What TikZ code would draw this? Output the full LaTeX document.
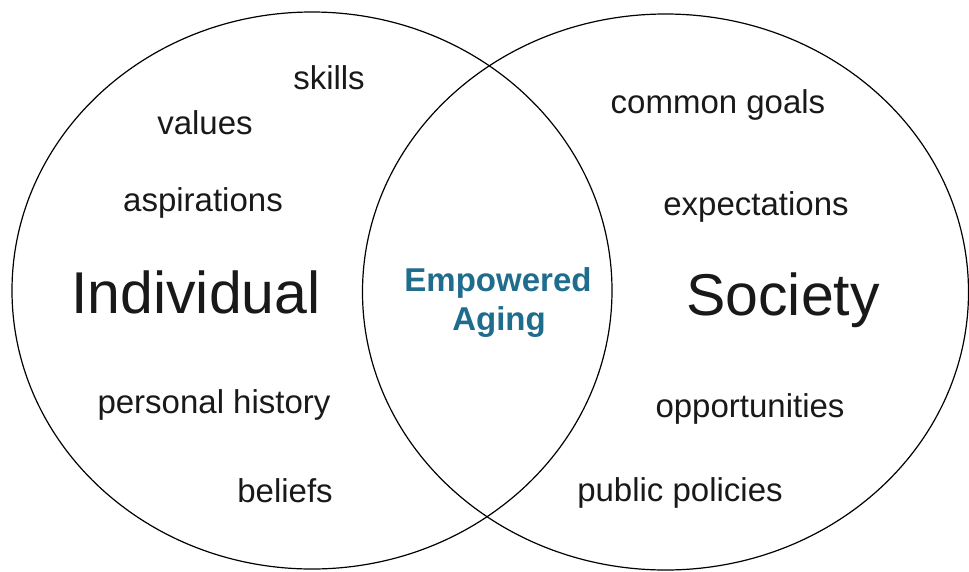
\documentclass[tikz,border=0pt]{standalone}
\usepackage{fontspec}
\setmainfont{Liberation Sans}
\usetikzlibrary{shapes.geometric}
\definecolor{agingblue}{RGB}{31,108,140}

\begin{document}
\begin{tikzpicture}[x=1pt,y=-1pt,
  ring/.style={draw,ellipse,line width=1.2pt,inner sep=0pt},
  word/.style={anchor=base,inner sep=0pt,text=black!90,font=\fontsize{33}{40}\selectfont},
  big/.style={anchor=base,inner sep=0pt,text=black!90,font=\fontsize{59}{70}\selectfont},
  centre/.style={anchor=base,inner sep=0pt,text=agingblue,font=\bfseries\fontsize{33}{40}\selectfont}]
\useasboundingbox (0,0) rectangle (969,571);
\node[ring,minimum width=600pt,minimum height=557pt] (indivring) at (312,290.5) {};
\node[ring,minimum width=606pt,minimum height=556pt] (socring) at (665.5,292) {};
\node[word] (skills) at (329,89) {skills};
\node[word] (values) at (205,134) {values};
\node[word] (aspir) at (203,211) {aspirations};
\node[big] (indiv) at (196,313) {Individual};
\node[word] (history) at (214,413) {personal history};
\node[word] (beliefs) at (285,502) {beliefs};
\node[word] (goals) at (718,113) {common goals};
\node[word] (expect) at (756,215) {expectations};
\node[big] (society) at (783,315) {Society};
\node[word] (opport) at (750,417) {opportunities};
\node[word] (policies) at (680,501) {public policies};
\node[centre] (empow) at (498,291) {Empowered};
\node[centre] (aging) at (499,330) {Aging};
\end{tikzpicture}
\end{document}
